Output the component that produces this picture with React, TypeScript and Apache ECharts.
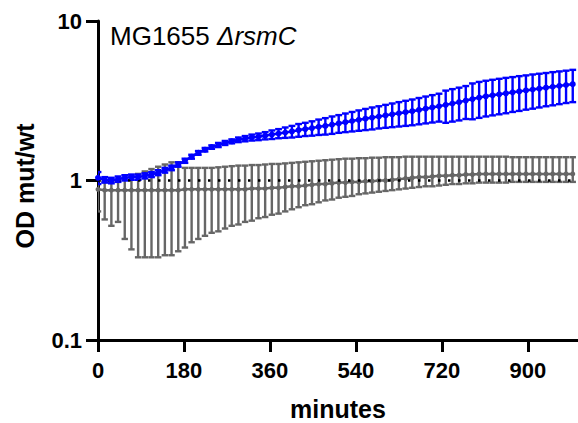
import React, { useEffect, useRef } from "react";
import * as echarts from "echarts";

// time points (minutes)
const minutes = [
  0, 14, 28, 42, 56, 70, 84, 98, 112, 126,
  140, 154, 168, 182, 196, 210, 224, 238, 252, 266,
  280, 294, 308, 322, 336, 350, 364, 378, 392, 406,
  420, 434, 448, 462, 476, 490, 504, 518, 532, 546,
  560, 574, 588, 602, 616, 630, 644, 658, 672, 686,
  700, 714, 728, 742, 756, 770, 784, 798, 812, 826,
  840, 854, 868, 882, 896, 910, 924, 938, 952, 966,
  980, 994,
];

// ΔrsmC mutant / wt (blue)
const mutMean = [
  1.04, 1.01, 1.0, 1.02, 1.04, 1.05, 1.05, 1.07, 1.09, 1.12,
  1.16, 1.2, 1.26, 1.33, 1.41, 1.49, 1.56, 1.62, 1.67, 1.72,
  1.76, 1.8, 1.83, 1.86, 1.88, 1.91, 1.94, 1.97, 2.0, 2.03,
  2.07, 2.1, 2.13, 2.17, 2.2, 2.24, 2.28, 2.32, 2.36, 2.4,
  2.44, 2.48, 2.52, 2.56, 2.6, 2.64, 2.68, 2.72, 2.77, 2.82,
  2.87, 2.92, 2.98, 3.04, 3.1, 3.17, 3.24, 3.31, 3.37, 3.42,
  3.47, 3.52, 3.57, 3.62, 3.67, 3.72, 3.77, 3.82, 3.87, 3.92,
  3.97, 4.02,
];
const mutSD = [
  0.09, 0.04, 0.04, 0.04, 0.04, 0.04, 0.04, 0.04, 0.04, 0.04,
  0.04, 0.04, 0.04, 0.04, 0.04, 0.04, 0.04, 0.04, 0.05, 0.05,
  0.05, 0.06, 0.07, 0.08, 0.09, 0.1, 0.12, 0.13, 0.15, 0.17,
  0.19, 0.2, 0.22, 0.24, 0.26, 0.28, 0.29, 0.31, 0.33, 0.35,
  0.37, 0.39, 0.4, 0.42, 0.44, 0.46, 0.48, 0.5, 0.52, 0.54,
  0.56, 0.58, 0.68, 0.7, 0.72, 0.74, 0.82, 0.84, 0.85, 0.86,
  0.87, 0.88, 0.88, 0.89, 0.89, 0.9, 0.9, 0.9, 0.91, 0.91,
  0.91, 0.92,
];

// control (gray): mean with lower / upper error limits
const ctrlMean = [
  0.88, 0.87, 0.87, 0.87, 0.87, 0.87, 0.87, 0.87, 0.87, 0.87,
  0.87, 0.87, 0.87, 0.88, 0.88, 0.88, 0.88, 0.88, 0.88, 0.88,
  0.88, 0.88, 0.88, 0.89, 0.89, 0.89, 0.9, 0.9, 0.91, 0.92,
  0.92, 0.93, 0.94, 0.95, 0.95, 0.96, 0.97, 0.97, 0.98, 0.98,
  0.99, 0.99, 1.0, 1.0, 1.01, 1.02, 1.03, 1.04, 1.05, 1.05,
  1.06, 1.07, 1.07, 1.08, 1.08, 1.09, 1.09, 1.1, 1.1, 1.1,
  1.1, 1.1, 1.1, 1.1, 1.1, 1.1, 1.1, 1.1, 1.1, 1.1,
  1.1, 1.1,
];
const ctrlUpper = [
  1.0, 0.98, 0.98, 1.0, 1.03, 1.07, 1.1, 1.14, 1.18, 1.22,
  1.26, 1.3, 1.3, 1.2, 1.2, 1.2, 1.2, 1.2, 1.21, 1.22,
  1.23, 1.24, 1.24, 1.25, 1.25, 1.26, 1.27, 1.27, 1.28, 1.29,
  1.3, 1.31, 1.32, 1.33, 1.34, 1.35, 1.36, 1.37, 1.37, 1.38,
  1.38, 1.39, 1.39, 1.4, 1.4, 1.4, 1.41, 1.41, 1.41, 1.41,
  1.41, 1.41, 1.41, 1.41, 1.41, 1.41, 1.41, 1.41, 1.41, 1.41,
  1.41, 1.41, 1.4, 1.4, 1.4, 1.4, 1.4, 1.4, 1.4, 1.4,
  1.4, 1.4,
];
const ctrlLower = [
  0.64, 0.57, 0.52, 0.55, 0.43, 0.37, 0.33, 0.33, 0.33, 0.33,
  0.34, 0.34, 0.36, 0.38, 0.41, 0.43, 0.45, 0.47, 0.48, 0.5,
  0.52, 0.53, 0.55, 0.56, 0.58, 0.59, 0.61, 0.62, 0.64, 0.66,
  0.68, 0.7, 0.71, 0.73, 0.75, 0.76, 0.78, 0.79, 0.8, 0.82,
  0.83, 0.84, 0.85, 0.86, 0.87, 0.88, 0.89, 0.9, 0.91, 0.92,
  0.92, 0.93, 0.94, 0.95, 0.95, 0.96, 0.96, 0.97, 0.97, 0.97,
  0.97, 0.97, 0.98, 0.98, 0.98, 0.98, 0.98, 0.98, 0.98, 0.98,
  0.98, 0.98,
];

const referenceLevel = 1;
const xTicks = [0, 180, 360, 540, 720, 900];
const xMax = 1005;
const yMin = 0.1;
const yMax = 10;
const strainText = "MG1655";
const mutantText = "ΔrsmC";
const yTitle = "OD mut/wt";
const xTitle = "minutes";

const BLUE = "#0000ff";
const GRAY = "#666666";
const FONT = "'Liberation Sans', Arial, Helvetica, sans-serif";

export default function App() {
  const ref = useRef<HTMLDivElement>(null);

  useEffect(() => {
    if (!ref.current) return;
    const chart = echarts.init(ref.current, null, { renderer: "svg" });

    const blueLine = minutes.map((t, i) => [t, mutMean[i]]);
    const blueErr = minutes.map((t, i) => [t, mutMean[i] - mutSD[i], mutMean[i] + mutSD[i]]);
    const grayLine = minutes.map((t, i) => [t, ctrlMean[i]]);
    const grayErr = minutes.map((t, i) => [t, ctrlLower[i], ctrlUpper[i]]);

    const errRender = (color: string, lw: number, half: number) => (params: any, api: any) => {
      const x = api.value(0);
      const lo = api.coord([x, api.value(1)]);
      const hi = api.coord([x, api.value(2)]);
      const style = { stroke: color, lineWidth: lw, fill: "none" };
      return {
        type: "group",
        children: [
          { type: "line", shape: { x1: lo[0], y1: lo[1], x2: hi[0], y2: hi[1] }, style },
          { type: "line", shape: { x1: lo[0] - half, y1: lo[1], x2: lo[0] + half, y2: lo[1] }, style },
          { type: "line", shape: { x1: hi[0] - half, y1: hi[1], x2: hi[0] + half, y2: hi[1] }, style },
        ],
      };
    };

    chart.setOption({
      animation: false,
      grid: { left: 98, top: 21, right: 0, bottom: 83, containLabel: false },
      xAxis: {
        type: "value",
        min: 0,
        max: xMax,
        axisLine: { show: true, lineStyle: { color: "#000", width: 3 } },
        axisTick: { show: true, length: 12, lineStyle: { color: "#000", width: 3 }, customValues: xTicks },
        axisLabel: {
          customValues: xTicks,
          color: "#000",
          fontFamily: FONT,
          fontWeight: "bold",
          fontSize: 22,
          margin: 19,
        },
        splitLine: { show: false },
      },
      yAxis: {
        type: "log",
        logBase: 10,
        min: yMin,
        max: yMax,
        axisLine: { show: true, lineStyle: { color: "#000", width: 3 } },
        axisTick: { show: true, length: 12, lineStyle: { color: "#000", width: 3 } },
        axisLabel: {
          color: "#000",
          fontFamily: FONT,
          fontWeight: "bold",
          fontSize: 22,
          margin: 16,
          formatter: (v: number) => String(v),
        },
        minorTick: { show: false },
        splitLine: { show: false },
      },
      series: [
        {
          type: "line",
          name: "wt",
          data: [],
          z: 1,
          markLine: {
            silent: true,
            symbol: "none",
            label: { show: false },
            lineStyle: { color: "#000", width: 2.5, type: [2.5, 7.5] },
            data: [{ yAxis: referenceLevel }],
          },
        },
        {
          type: "custom",
          name: "ctrl err",
          data: grayErr,
          encode: { x: 0, y: [1, 2] },
          renderItem: errRender(GRAY, 2.4, 3.2),
          clip: true,
          z: 2,
        },
        {
          type: "line",
          name: "ctrl",
          data: grayLine,
          symbol: "circle",
          symbolSize: 5,
          itemStyle: { color: GRAY },
          lineStyle: { color: GRAY, width: 2.5 },
          z: 3,
        },
        {
          type: "custom",
          name: "mut err",
          data: blueErr,
          encode: { x: 0, y: [1, 2] },
          renderItem: errRender(BLUE, 2.4, 3.4),
          clip: true,
          z: 4,
        },
        {
          type: "line",
          name: "mut",
          data: blueLine,
          symbol: "circle",
          symbolSize: 6,
          itemStyle: { color: BLUE },
          lineStyle: { color: BLUE, width: 2.5 },
          z: 5,
        },
      ],
      graphic: [
        {
          type: "text",
          left: 110,
          top: 23,
          style: {
            text: `{a|${strainText} }{b|${mutantText}}`,
            rich: {
              a: { fontFamily: FONT, fontSize: 26, fill: "#000" },
              b: { fontFamily: FONT, fontSize: 26, fontStyle: "italic", fill: "#000" },
            },
          },
        },
        {
          type: "text",
          x: 25,
          y: 186,
          rotation: Math.PI / 2,
          style: {
            text: yTitle,
            fontFamily: FONT,
            fontWeight: "bold",
            fontSize: 25,
            fill: "#000",
            align: "center",
            verticalAlign: "middle",
          },
        },
        {
          type: "text",
          x: 338,
          y: 409,
          style: {
            text: xTitle,
            fontFamily: FONT,
            fontWeight: "bold",
            fontSize: 25,
            fill: "#000",
            align: "center",
            verticalAlign: "middle",
          },
        },
      ],
    });

    return () => chart.dispose();
  }, []);

  return (
    <div
      ref={ref}
      style={{ position: "fixed", left: 0, top: 0, width: 578, height: 423, background: "#fff" }}
    />
  );
}
